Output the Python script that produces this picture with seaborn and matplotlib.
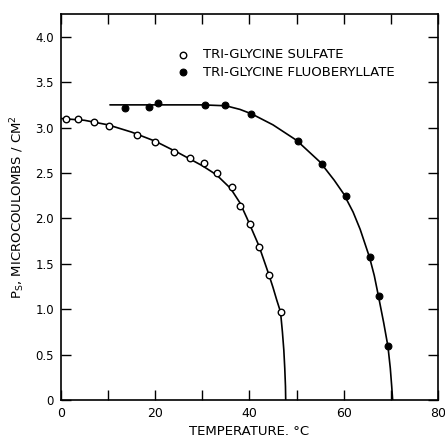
import numpy as np
import pandas as pd
import matplotlib
matplotlib.use("Agg")
import matplotlib.pyplot as plt
import seaborn as sns

# Measured points
tgs_t = [1.0, 3.7, 7.0, 10.1, 16.2, 20.0, 23.9, 27.3, 30.4, 33.2, 36.2, 37.9, 40.1, 42.1, 44.1, 46.7]
tgs_p = [3.09, 3.09, 3.06, 3.02, 2.92, 2.84, 2.73, 2.67, 2.61, 2.50, 2.34, 2.14, 1.94, 1.68, 1.38, 0.97]

tgfb_t = [13.5, 18.6, 20.5, 30.6, 34.9, 40.4, 50.4, 55.5, 60.4, 65.5, 67.4, 69.4]
tgfb_p = [3.22, 3.23, 3.27, 3.25, 3.25, 3.15, 2.85, 2.60, 2.25, 1.57, 1.14, 0.59]

# Fitted curves
tgs_curve_t = [0, 5, 10, 15, 20, 25, 30, 33, 36, 38, 39.5, 41, 42, 43, 44, 45, 45.8, 46.6, 47.0, 47.3, 47.5, 47.65, 47.7]
tgs_curve_p = [3.10, 3.08, 3.03, 2.95, 2.85, 2.72, 2.58, 2.48, 2.33, 2.17, 2.00, 1.82, 1.70, 1.55, 1.40, 1.24, 1.10, 0.97, 0.75, 0.55, 0.35, 0.15, 0.0]

tgfb_curve_t = [10.4, 20, 30, 35, 38, 40.5, 45, 50, 55, 58, 60, 62, 63.5, 65.5, 66.5, 67.4, 68.5, 69.4, 69.9, 70.2, 70.4]
tgfb_curve_p = [3.25, 3.25, 3.25, 3.24, 3.20, 3.15, 3.03, 2.86, 2.62, 2.42, 2.27, 2.07, 1.88, 1.57, 1.37, 1.14, 0.85, 0.59, 0.35, 0.15, 0.0]

x_ticks = [0, 10, 20, 30, 40, 50, 60, 70, 80]
x_labels = ["0", "", "20", "", "40", "", "60", "", "80"]
y_ticks = [0, 0.5, 1.0, 1.5, 2.0, 2.5, 3.0, 3.5, 4.0]
y_labels = ["0", "0.5", "1.0", "1.5", "2.0", "2.5", "3.0", "3.5", "4.0"]

sns.set_style("ticks", {"axes.edgecolor": "black", "text.color": "black",
                        "xtick.color": "black", "ytick.color": "black",
                        "axes.labelcolor": "black"})
plt.rcParams["font.family"] = ["DejaVu Sans"]
plt.rcParams["mathtext.default"] = "regular"

fig = plt.figure(figsize=(4.45, 4.4), dpi=100)
ax = fig.add_axes([0.137, 0.091, 0.847, 0.877])

sns.lineplot(x=tgs_curve_t, y=tgs_curve_p, ax=ax, color="black", lw=1.2, sort=False, estimator=None)
sns.lineplot(x=tgfb_curve_t, y=tgfb_curve_p, ax=ax, color="black", lw=1.2, sort=False, estimator=None)

sns.scatterplot(x=tgs_t, y=tgs_p, ax=ax, marker="o", s=22, facecolor="white",
                edgecolor="black", linewidth=1.0, zorder=5, label="TRI-GLYCINE SULFATE")
sns.scatterplot(x=tgfb_t, y=tgfb_p, ax=ax, marker="o", s=24, color="black",
                edgecolor="black", linewidth=0.8, zorder=5, label="TRI-GLYCINE FLUOBERYLLATE")

ax.set_xlim(0, 80)
ax.set_ylim(0, 4.25)
ax.set_xticks(x_ticks)
ax.set_xticklabels(x_labels, fontsize=9)
ax.set_yticks(y_ticks)
ax.set_yticklabels(y_labels, fontsize=8.5)
ax.tick_params(direction="in", top=True, right=True, length=7, width=1.0, pad=5, colors="black")
for s in ax.spines.values():
    s.set_linewidth(1.2)
    s.set_color("black")

ax.set_xlabel("TEMPERATURE. °C", fontsize=9.5, labelpad=4, color="black")
ax.set_ylabel(r"P$_{S}$, MICROCOULOMBS / CM$^{2}$", fontsize=9.5, labelpad=6, color="black")

leg = ax.legend(loc="upper left", bbox_to_anchor=(0.275, 0.925), frameon=False,
                fontsize=9.5, handletextpad=0.5, labelspacing=0.35, borderaxespad=0)
for t in leg.get_texts():
    t.set_color("black")

fig.savefig("out.png", dpi=100)
